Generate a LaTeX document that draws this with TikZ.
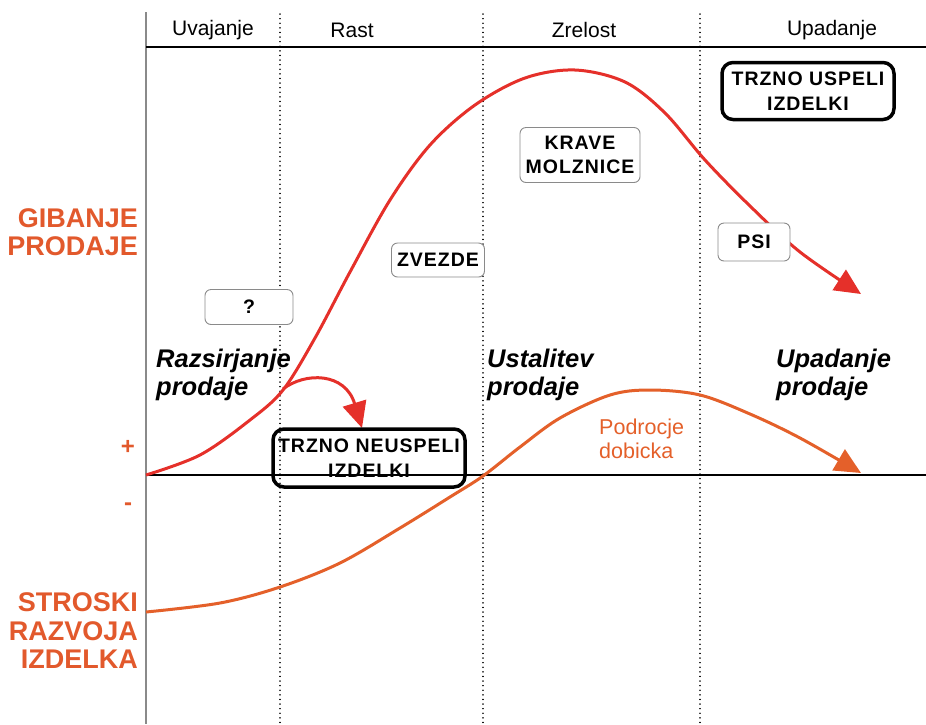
\documentclass[tikz,border=0pt]{standalone}
\usepackage{fontspec}
\setmainfont{Liberation Sans}
\newfontfamily\boxfont{Liberation Sans}[LetterSpace=5]
\usetikzlibrary{arrows.meta}
\definecolor{salesred}{HTML}{E5302A}
\definecolor{costorange}{HTML}{E4602A}
\definecolor{labelorange}{HTML}{E2592C}
\definecolor{softgray}{HTML}{8A8A8A}
\begin{document}
\begin{tikzpicture}[x=1pt,y=-1pt,
  phase/.style={font=\fontsize{21}{24}\selectfont, inner sep=0pt},
  softbox/.style={draw=softgray, line width=0.9pt, rounded corners=6pt, fill=white,
    font=\boxfont\bfseries\fontsize{19.5}{24}\selectfont, align=center, inner sep=0pt},
  hardbox/.style={draw=black, line width=3.5pt, rounded corners=11pt,
    font=\boxfont\bfseries\fontsize{19.5}{25}\selectfont, align=center, inner sep=0pt},
  sidelabel/.style={text=labelorange, font=\bfseries\fontsize{27}{28.5}\selectfont, align=right, inner sep=0pt},
  stagelabel/.style={font=\bfseries\itshape\fontsize{25.5}{28}\selectfont, align=left, inner sep=0pt, anchor=north west},
  divider/.style={black, line width=1.4pt, dash pattern=on 0.1pt off 4.5pt, line cap=round},
  salescurve/.style={salesred, line width=3pt, -{Triangle[length=26pt,width=24pt]}},
  costcurve/.style={costorange, line width=3pt, -{Triangle[length=26pt,width=24pt]}},
]
\useasboundingbox (0,0) rectangle (926,724);

% axes
\coordinate (axtop) at (146,12);
\coordinate (axbot) at (146,724);
\draw[softgray, line width=1.4pt] (axtop) -- (axbot);
\draw[black, line width=2.6pt] (146,47) -- (926,47);
\draw[black, line width=1.1pt] (146,475) -- (926,475);

% phase dividers
\foreach \x in {280,483,700} \draw[divider] (\x,14) -- (\x,724);

% phase titles
\node[phase] (uvajanje) at (213,30) {Uvajanje};
\node[phase] (rast) at (352,30) {Rast};
\node[phase] (zrelost) at (584,30) {Zrelost};
\node[phase] (upadanje) at (832,30) {Upadanje};

% side labels
\node[sidelabel, anchor=east] (gibanje) at (138,232) {GIBANJE\\PRODAJE};
\node[sidelabel, anchor=east] (stroski) at (138,631) {STROSKI\\RAZVOJA\\IZDELKA};
\node[text=labelorange, font=\bfseries\fontsize{24}{26}\selectfont, inner sep=0pt] (plus) at (128,447) {+};
\node[text=labelorange, font=\bfseries\fontsize{24}{26}\selectfont, inner sep=0pt] (minus) at (128,507) {-};

% cost / profit curve
\draw[costcurve] plot[smooth, tension=0.55] coordinates {
  (146,612) (220,603) (280,587) (340,563) (400,528) (450,497) (483,476)
  (520,447) (560,418) (610,395) (650,390) (700,395) (750,414) (800,438) (861,473)};

% sales curve
\draw[salescurve] plot[smooth, tension=0.55] coordinates {
  (146,475) (200,455) (250,420) (283,390) (315,338) (350,272) (390,200)
  (430,145) (475,105) (525,78) (575,70) (625,82) (665,113) (705,160)
  (750,206) (800,252) (861,294)};

% failed-product branch
\draw[salescurve] (283,389) .. controls (305,372) and (345,372) .. (362,428);

% stage boxes
\node[softbox, minimum width=88pt, minimum height=35pt] (question) at (249,307) {?};
\node[softbox, minimum width=93pt, minimum height=34pt] (zvezde) at (438,260) {ZVEZDE};
\node[softbox, minimum width=120pt, minimum height=55pt] (krave) at (580,155) {KRAVE\\MOLZNICE};
\node[softbox, minimum width=72pt, minimum height=38pt] (psi) at (754,242) {PSI};
\node[hardbox, minimum width=172pt, minimum height=57pt] (uspeli) at (808,91) {TRZNO USPELI\\IZDELKI};
\node[hardbox, minimum width=192pt, minimum height=58pt] (neuspeli) at (369,458) {TRZNO NEUSPELI\\IZDELKI};

% stage descriptions
\node[stagelabel] (razsirjanje) at (156,349) {Razsirjanje\\prodaje};
\node[stagelabel] (ustalitev) at (487,349) {Ustalitev\\prodaje};
\node[stagelabel] (upadprodaje) at (776,349) {Upadanje\\prodaje};

% profit area label
\node[text=costorange, font=\fontsize{21.5}{24}\selectfont, align=left, inner sep=0pt, anchor=north west] (dobicek) at (599,419) {Podrocje\\dobicka};
\end{tikzpicture}
\end{document}
